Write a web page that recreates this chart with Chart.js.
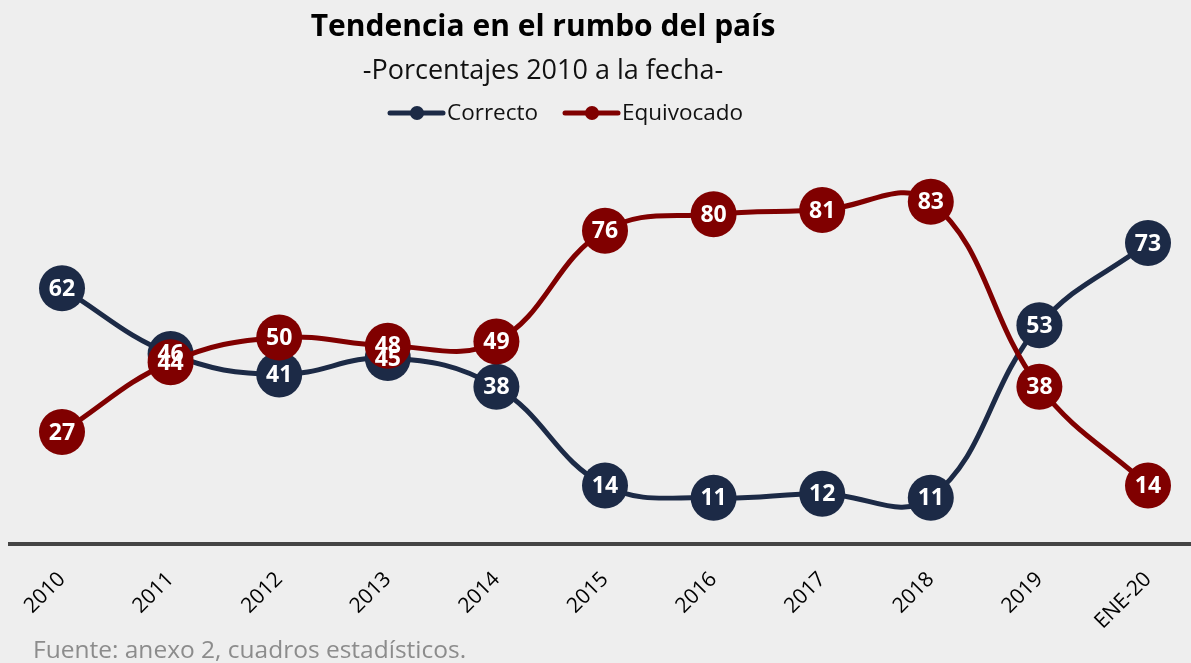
<!DOCTYPE html>
<html>
<head>
<meta charset="utf-8">
<script src="https://cdn.jsdelivr.net/npm/chart.js@4/dist/chart.umd.min.js"></script>
<style>
  body { margin: 0; background: #eeeeee; }
  .container { width: 1191px; height: 663px; position: relative; }
</style>
</head>
<body>
<div class="container">
  <canvas id="rumboChart" width="1191" height="663"></canvas>
</div>
<script>
// Data
const years = ["2010", "2011", "2012", "2013", "2014", "2015", "2016", "2017", "2018", "2019", "ENE-20"];
const correcto = [62, 46, 41, 45, 38, 14, 11, 12, 11, 53, 73];
const equivocado = [27, 44, 50, 48, 49, 76, 80, 81, 83, 38, 14];

const navy = "#1c2a46";
const red = "#800000";
const fontFamily = "'Open Sans', 'Noto Sans', sans-serif";

// Titles, legend, baseline and footer
const decorPlugin = {
  id: "decor",
  beforeDatasetsDraw(chart) {
    const ctx = chart.ctx;
    const y0 = chart.scales.y.getPixelForValue(0);
    ctx.save();
    ctx.strokeStyle = "#444444";
    ctx.lineWidth = 4;
    ctx.beginPath();
    ctx.moveTo(8, y0 + 1);
    ctx.lineTo(1191, y0 + 1);
    ctx.stroke();
    ctx.restore();
  },
  afterDraw(chart) {
    const ctx = chart.ctx;
    ctx.save();
    ctx.textAlign = "center";
    ctx.textBaseline = "middle";
    ctx.fillStyle = "#000000";
    ctx.font = "bold 30px " + fontFamily;
    ctx.fillText("Tendencia en el rumbo del país", 543, 27);
    ctx.font = "27px " + fontFamily;
    ctx.fillStyle = "#111111";
    ctx.fillText("-Porcentajes 2010 a la fecha-", 543, 71);

    // legend
    const items = [
      { label: chart.data.datasets[0].label, color: navy, x: 388 },
      { label: chart.data.datasets[1].label, color: red, x: 563 },
    ];
    items.forEach((item) => {
      const ly = 113;
      ctx.strokeStyle = item.color;
      ctx.lineWidth = 5;
      ctx.lineCap = "round";
      ctx.beginPath();
      ctx.moveTo(item.x + 2, ly);
      ctx.lineTo(item.x + 55, ly);
      ctx.stroke();
      ctx.fillStyle = item.color;
      ctx.beginPath();
      ctx.arc(item.x + 29, ly, 7, 0, Math.PI * 2);
      ctx.fill();
      ctx.fillStyle = "#111111";
      ctx.textAlign = "left";
      ctx.font = "22.5px " + fontFamily;
      ctx.fillText(item.label, item.x + 59, ly + 1);
    });

    // footer
    ctx.fillStyle = "#8c8c8c";
    ctx.font = "24.5px " + fontFamily;
    ctx.textAlign = "left";
    ctx.fillText("Fuente: anexo 2, cuadros estadísticos.", 33, 651);
    ctx.restore();
  },
};

// White value labels inside each point
const valueLabelPlugin = {
  id: "valueLabels",
  afterDatasetsDraw(chart) {
    const ctx = chart.ctx;
    ctx.save();
    ctx.fillStyle = "#ffffff";
    ctx.font = "bold 23px " + fontFamily;
    ctx.textAlign = "center";
    ctx.textBaseline = "middle";
    chart.data.datasets.forEach((ds, i) => {
      const meta = chart.getDatasetMeta(i);
      meta.data.forEach((pt, j) => {
        ctx.fillText(String(ds.data[j]), pt.x, pt.y + 1);
      });
    });
    ctx.restore();
  },
};

const ctx = document.getElementById("rumboChart").getContext("2d");
new Chart(ctx, {
  type: "line",
  data: {
    labels: years,
    datasets: [
      {
        label: "Correcto",
        data: correcto,
        borderColor: navy,
        backgroundColor: navy,
        borderWidth: 5,
        pointRadius: 23,
        pointHoverRadius: 23,
        pointBorderWidth: 0,
        tension: 0.4,
        order: 1,
      },
      {
        label: "Equivocado",
        data: equivocado,
        borderColor: red,
        backgroundColor: red,
        borderWidth: 5,
        pointRadius: 23,
        pointHoverRadius: 23,
        pointBorderWidth: 0,
        tension: 0.4,
        order: 0,
      },
    ],
  },
  options: {
    responsive: false,
    animation: false,
    events: [],
    layout: {
      padding: { top: 132, left: 62, right: 43, bottom: 0 },
    },
    scales: {
      x: {
        offset: false,
        grid: { display: false, drawTicks: false },
        border: { display: false },
        ticks: {
          color: "#000000",
          font: { family: fontFamily, size: 21 },
          maxRotation: 45,
          minRotation: 45,
          padding: 24,
        },
        afterFit(scale) {
          scale.height = 120;
        },
      },
      y: {
        display: false,
        min: 0,
        max: 100,
      },
    },
    plugins: {
      legend: { display: false },
      title: { display: false },
      tooltip: { enabled: false },
    },
  },
  plugins: [decorPlugin, valueLabelPlugin],
});
</script>
</body>
</html>
